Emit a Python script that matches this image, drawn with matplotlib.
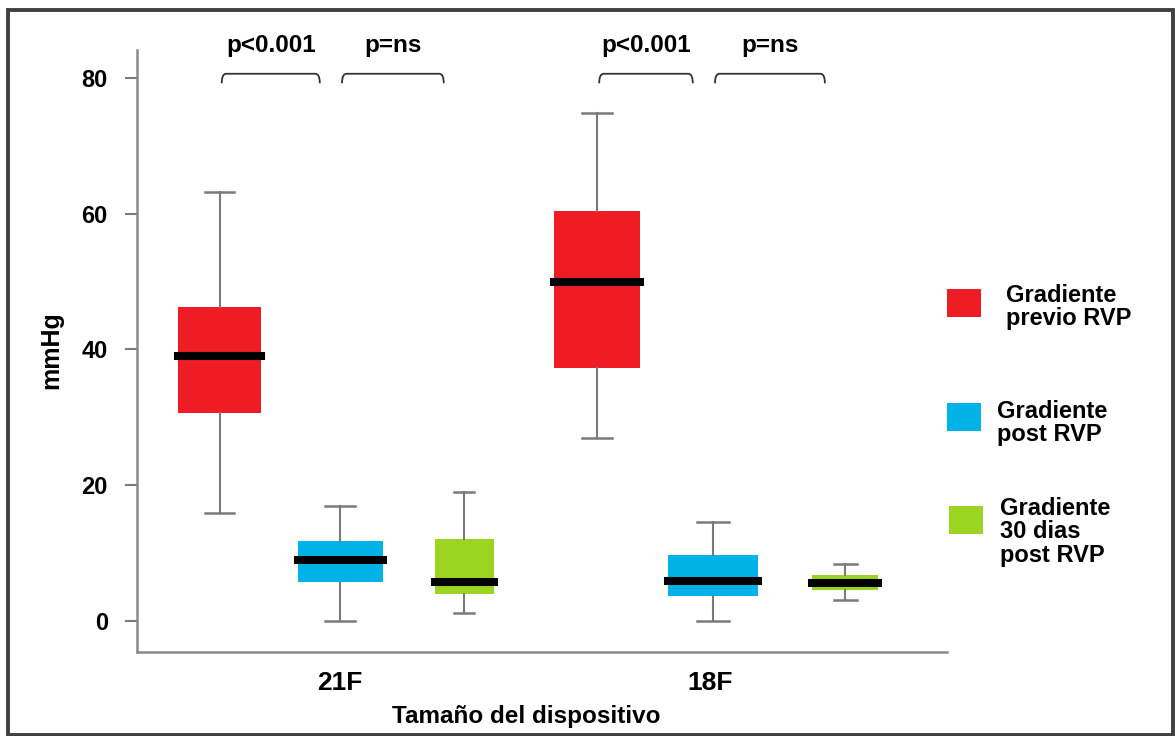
import matplotlib.pyplot as plt
from matplotlib.patches import Rectangle, PathPatch
from matplotlib.path import Path

plt.rcParams['font.family'] = ['Liberation Sans', 'DejaVu Sans']
plt.rcParams['font.weight'] = 'bold'

groups = ['21F', '18F']
series = ['Gradiente\nprevio RVP', 'Gradiente\npost RVP', 'Gradiente\n30 dias\npost RVP']
colors = ['#EE1C25', '#00B2E8', '#9BD421']

# five-number summaries: [low whisker, Q1, median, Q3, high whisker]
stats_21F = [
    [15.9, 30.7, 39.0, 46.3, 63.2],
    [0.0, 5.7, 9.0, 11.8, 16.9],
    [1.2, 4.0, 5.7, 12.1, 19.0],
]
stats_18F = [
    [27.0, 37.3, 49.9, 60.4, 74.8],
    [0.0, 3.7, 5.9, 9.7, 14.6],
    [3.1, 4.6, 5.6, 6.8, 8.4],
]
pvalues = ['p<0.001', 'p=ns']

# layout
offsets = [[-0.325, 0.0, 0.335], [-0.305, 0.008, 0.365]]
widths = [[0.224, 0.23, 0.16], [0.232, 0.243, 0.178]]

fig = plt.figure(figsize=(11.75, 7.36), dpi=100)
ax = fig.add_axes([137 / 1175, 84 / 736, 810 / 1175, 602 / 736])

all_stats = [stats_21F, stats_18F]
for g, (gname, gstats) in enumerate(zip(groups, all_stats)):
    center = g + 1
    bxp_stats = []
    for s in gstats:
        bxp_stats.append(dict(whislo=s[0], q1=s[1], med=s[2], q3=s[3], whishi=s[4], fliers=[]))
    pos = [center + o for o in offsets[g]]
    w = widths[g]
    bp = ax.bxp(bxp_stats, positions=pos, widths=w, capwidths=[0.35 * x for x in w],
                patch_artist=True, manage_ticks=False, showfliers=False,
                boxprops=dict(linewidth=0),
                whiskerprops=dict(color='#7a7a7a', linewidth=1.5),
                capprops=dict(color='#7a7a7a', linewidth=1.8),
                medianprops=dict(color='black', linewidth=5.8, solid_capstyle='projecting'))
    for patch, c in zip(bp['boxes'], colors):
        patch.set_facecolor(c)
        patch.set_edgecolor(c)
        patch.set_zorder(2)
    for m in bp['medians']:
        m.set_zorder(3)

    # significance brackets between neighbouring boxes
    for k, ptxt in enumerate(pvalues):
        x0 = pos[k] + 0.005
        x1 = pos[k + 1] - 0.055
        ytop, ybot, dx = 80.6, 79.2, 0.012
        verts = [(x0, ybot), (x0, ytop), (x0 + dx, ytop),
                 (x1 - dx, ytop), (x1, ytop), (x1, ybot)]
        codes = [Path.MOVETO, Path.CURVE3, Path.CURVE3,
                 Path.LINETO, Path.CURVE3, Path.CURVE3]
        ax.add_patch(PathPatch(Path(verts, codes), fill=False, edgecolor='#333333',
                               linewidth=1.3, clip_on=False))
        ax.text((x0 + x1) / 2, 84.7, ptxt, ha='center', va='center', fontsize=17.5,
                fontweight='bold', clip_on=False)

ax.set_xlim(0.451, 2.64)
ax.set_ylim(-4.57, 84.1)
ax.set_yticks([0, 20, 40, 60, 80])
ax.set_xticks([1, 2])
ax.set_xticklabels(groups)
ax.tick_params(axis='y', direction='out', length=9, width=1.5, color='#7a7a7a',
               labelsize=17, pad=12)
ax.tick_params(axis='x', length=0, labelsize=19, pad=14)
for lab in ax.get_xticklabels() + ax.get_yticklabels():
    lab.set_fontweight('bold')
ax.spines['top'].set_visible(False)
ax.spines['right'].set_visible(False)
for sp in ['left', 'bottom']:
    ax.spines[sp].set_color('#8a8a8a')
    ax.spines[sp].set_linewidth(1.8)

fig.text(526 / 1175, 1 - 717 / 736, 'Tamaño del dispositivo', ha='center', va='center',
         fontsize=17.5, fontweight='bold')
fig.text(51 / 1175, 1 - 350 / 736, 'mmHg', ha='center', va='center', rotation=90,
         fontsize=18, fontweight='bold')

# legend drawn by hand to match the spacing
leg_squares = [(947, 289), (947, 403), (949, 506)]
leg_text = [(1006, 307), (997, 423), (1000, 532)]
for (sx, sy), (tx, ty), c, lab in zip(leg_squares, leg_text, colors, series):
    fig.patches.append(Rectangle((sx / 1175, 1 - (sy + 28) / 736), 34 / 1175, 28 / 736,
                                 transform=fig.transFigure, facecolor=c, edgecolor='none'))
    fig.text(tx / 1175, 1 - ty / 736, lab, ha='left', va='center', fontsize=17,
             fontweight='bold', linespacing=1.05)

# outer frame
fig.patches.append(Rectangle((8 / 1175, 1 / 736), 1165 / 1175, 725 / 736,
                             transform=fig.transFigure, fill=False,
                             edgecolor='#404040', linewidth=2.8))

fig.savefig('out.png', dpi=100)
